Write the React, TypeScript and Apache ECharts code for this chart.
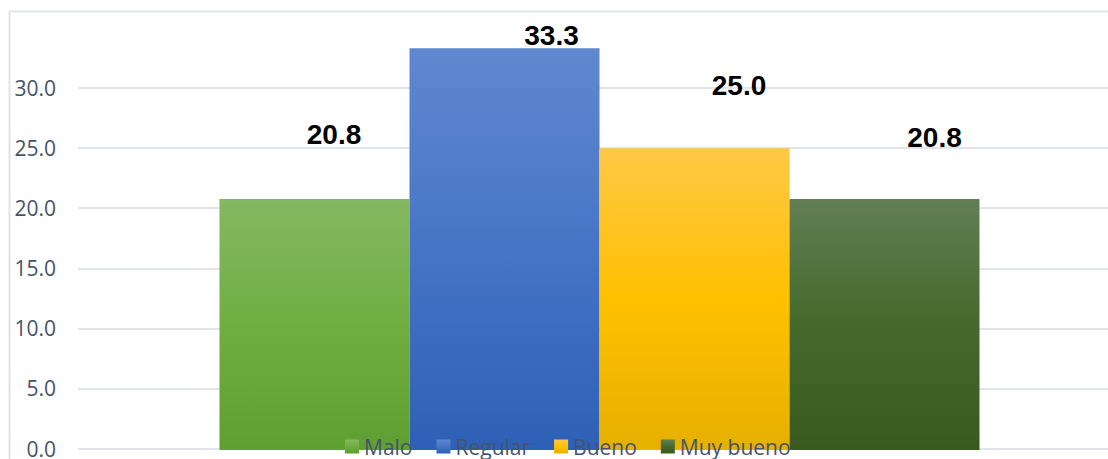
import React, { useEffect, useRef } from "react";
import * as echarts from "echarts";

const categories = [""];
const seriesNames = ["Malo", "Regular", "Bueno", "Muy bueno"];
const seriesValues = [20.8, 33.3, 25.0, 20.8];
const yTicks = { min: 0, max: 30, interval: 5 };

const gradients: [string, string, string][] = [
  ["#84b862", "#70ae42", "#5f9e30"],
  ["#6088cf", "#4674c6", "#2d60b6"],
  ["#ffc846", "#ffc000", "#e6b000"],
  ["#617f54", "#45692c", "#385a1e"],
];
const labelOffsets: [number, number][] = [
  [19.5, -46],
  [47, 6],
  [44.5, -44],
  [50, -43],
];

export default function App() {
  const ref = useRef<HTMLDivElement>(null);
  useEffect(() => {
    if (!ref.current) return;
    const chart = echarts.init(ref.current, undefined, { renderer: "svg" });
    const grad = (c: [string, string, string]) =>
      new echarts.graphic.LinearGradient(0, 0, 0, 1, [
        { offset: 0, color: c[0] },
        { offset: 0.5, color: c[1] },
        { offset: 1, color: c[2] },
      ]);
    const hiddenCat = {
      type: "category",
      data: categories,
      axisLine: { show: false },
      axisTick: { show: false },
      axisLabel: { show: false },
    };
    chart.setOption({
      animation: false,
      backgroundColor: "#ffffff",
      graphic: [
        {
          type: "rect",
          shape: { x: 9.5, y: 11.5, width: 1200, height: 600 },
          style: { fill: "none", stroke: "#dfe3ea", lineWidth: 2 },
          z: -1,
        },
      ],
      grid: [
        { left: 78, right: 0, top: 88, bottom: 9 },
        { left: 91, right: 0, top: 88, bottom: 9 },
      ],
      legend: {
        left: 340,
        top: 431,
        itemWidth: 14,
        itemHeight: 14,
        itemGap: 24,
        icon: "rect",
        textStyle: { fontFamily: "Open Sans", fontSize: 21, color: "#44546a" },
        data: seriesNames,
      },
      xAxis: [
        { ...hiddenCat, gridIndex: 0 },
        { ...hiddenCat, gridIndex: 1 },
      ],
      yAxis: [
        {
          type: "value",
          gridIndex: 0,
          min: yTicks.min,
          max: yTicks.max,
          interval: yTicks.interval,
          axisLabel: {
            formatter: (v: number) => v.toFixed(1),
            fontFamily: "Open Sans",
            fontSize: 21,
            color: "#44546a",
            margin: 22,
          },
          splitLine: { lineStyle: { color: "#e1e5eb", width: 2 } },
        },
        {
          type: "value",
          gridIndex: 1,
          min: yTicks.min,
          max: yTicks.max,
          interval: yTicks.interval,
          axisLabel: { show: false },
          axisLine: { show: false },
          splitLine: { show: false },
        },
      ],
      series: seriesNames.map((name, i) => ({
        name,
        type: "bar",
        xAxisIndex: 1,
        yAxisIndex: 1,
        data: [seriesValues[i]],
        barWidth: 190,
        barGap: "0%",
        clip: false,
        itemStyle: { color: grad(gradients[i]) },
        label: {
          show: true,
          position: "top",
          distance: 5,
          offset: labelOffsets[i],
          formatter: (p: any) => Number(p.value).toFixed(1),
          fontFamily: "Liberation Sans",
          fontWeight: "bold",
          fontSize: 28,
          lineHeight: 28,
          color: "#000000",
        },
      })),
    });
    return () => chart.dispose();
  }, []);
  return (
    <div
      ref={ref}
      style={{ position: "absolute", left: 0, top: 0, width: 1108, height: 459 }}
    />
  );
}
